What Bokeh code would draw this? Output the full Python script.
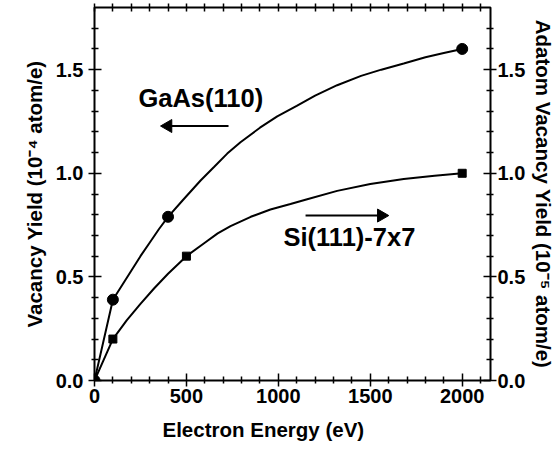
import math
from bokeh.plotting import figure
from bokeh.models import LinearAxis, FixedTicker, PrintfTickFormatter, Title, Range1d
from bokeh.core.properties import value
from bokeh.embed import file_html
from bokeh.resources import INLINE

# Measured data points
gaas_x = [0, 100, 400, 2000]
gaas_y = [0.0, 0.39, 0.79, 1.60]
si_x = [0, 100, 500, 2000]
si_y = [0.0, 0.20, 0.60, 1.00]

# Smooth guide curves
gaas_curve_x = [0, 100, 150, 200, 250, 300, 350, 400, 480, 577, 650, 722, 794, 900, 994, 1100, 1200, 1320, 1450, 1560, 1682, 1800, 1900, 2000]
gaas_curve_y = [0.0, 0.39, 0.46, 0.53, 0.60, 0.665, 0.73, 0.79, 0.87, 0.965, 1.03, 1.095, 1.15, 1.22, 1.275, 1.325, 1.375, 1.425, 1.47, 1.50, 1.53, 1.56, 1.58, 1.60]
si_curve_x = [0, 100, 175, 250, 325, 400, 500, 600, 670, 740, 850, 957, 1066, 1157, 1320, 1500, 1682, 1850, 2000]
si_curve_y = [0.0, 0.20, 0.29, 0.37, 0.445, 0.515, 0.60, 0.665, 0.71, 0.745, 0.79, 0.825, 0.852, 0.875, 0.915, 0.948, 0.972, 0.988, 1.0]

x_major = [0, 500, 1000, 1500, 2000]
x_minor = [100, 200, 300, 400, 600, 700, 800, 900, 1100, 1200, 1300, 1400, 1600, 1700, 1800, 1900, 2100]
y_major = [0.0, 0.5, 1.0, 1.5]
y_minor = [0.1, 0.2, 0.3, 0.4, 0.6, 0.7, 0.8, 0.9, 1.1, 1.2, 1.3, 1.4, 1.6, 1.7]

X_END = 2154
Y_END = 1.8
FONT = "Liberation Sans"

p = figure(width=559, height=451, output_backend="svg", toolbar_location=None,
           x_range=Range1d(0, X_END), y_range=Range1d(0, Y_END),
           min_border_left=94, min_border_right=69, min_border_top=7, min_border_bottom=69)
p.grid.visible = False
p.outline_line_color = "black"
p.outline_line_width = 2

def style_axis(ax, ticks, minor, fmt=None):
    ax.ticker = FixedTicker(ticks=ticks, minor_ticks=minor)
    if fmt:
        ax.formatter = PrintfTickFormatter(format=fmt)
    ax.major_tick_in = 7
    ax.major_tick_out = 6
    ax.minor_tick_in = 4
    ax.minor_tick_out = 3
    ax.major_tick_line_width = 1.5
    ax.minor_tick_line_width = 1.5
    ax.major_tick_line_color = "black"
    ax.minor_tick_line_color = "black"
    ax.major_label_text_font = FONT
    ax.major_label_text_font_style = "bold"
    ax.major_label_text_font_size = "20px"
    ax.major_label_text_color = "black"
    ax.axis_label_text_font = FONT
    ax.axis_label_text_font_style = "bold"
    ax.axis_label_text_font_size = "20.5px"
    ax.axis_label_text_color = "black"

xa = p.xaxis[0]
style_axis(xa, x_major, x_minor)
xa.major_label_standoff = 2

ya = p.yaxis[0]
style_axis(ya, y_major, y_minor, "%.1f")
ya.axis_label = "Vacancy Yield (10\u207b\u2074 atom/e)"
ya.major_label_standoff = 5
ya.axis_label_standoff = 7

ra = LinearAxis()
style_axis(ra, y_major, y_minor, "%.1f")
ra.major_label_standoff = 1
p.add_layout(ra, "right")

# top axis: ticks only (all as minor ticks, so no labels are produced)
ta = LinearAxis()
style_axis(ta, [], x_major + x_minor)
ta.minor_tick_out = 4
p.add_layout(ta, "above")

ttl = dict(text_font=FONT, text_font_style="bold", text_font_size="20.5px", text_color="black")
p.add_layout(Title(text="Electron Energy (eV)", align="left", offset=68, standoff=21, **ttl), "below")
p.add_layout(Title(text="Adatom Vacancy Yield (10\u207b\u2075 atom/e)", align="center",
                   standoff=6, **ttl), "right")

p.line(gaas_curve_x, gaas_curve_y, line_color="black", line_width=2)
p.line(si_curve_x, si_curve_y, line_color="black", line_width=2)
p.scatter(gaas_x, gaas_y, marker="circle", size=11, color="black")
p.scatter(si_x[1:], si_y[1:], marker="square", size=8, color="black")

# direction arrows (shaft + head)
p.segment(x0=[729], y0=[1.228], x1=[405], y1=[1.228], line_color="black", line_width=2)
p.scatter([400], [1.228], marker="triangle", size=13, angle=math.pi / 2, color="black")
p.segment(x0=[1148], y0=[0.796], x1=[1555], y1=[0.796], line_color="black", line_width=2)
p.scatter([1560], [0.796], marker="triangle", size=13, angle=-math.pi / 2, color="black")

txt = dict(text_font=value(FONT), text_font_style="bold", text_font_size="25.5px",
           text_baseline="middle", text_color="black")
p.text(x=[239], y=[1.365], text=["GaAs(110)"], **txt)
p.text(x=[1028], y=[0.693], text=["Si(111)-7x7"], **txt)

open("out.html", "w").write(file_html(p, INLINE))
